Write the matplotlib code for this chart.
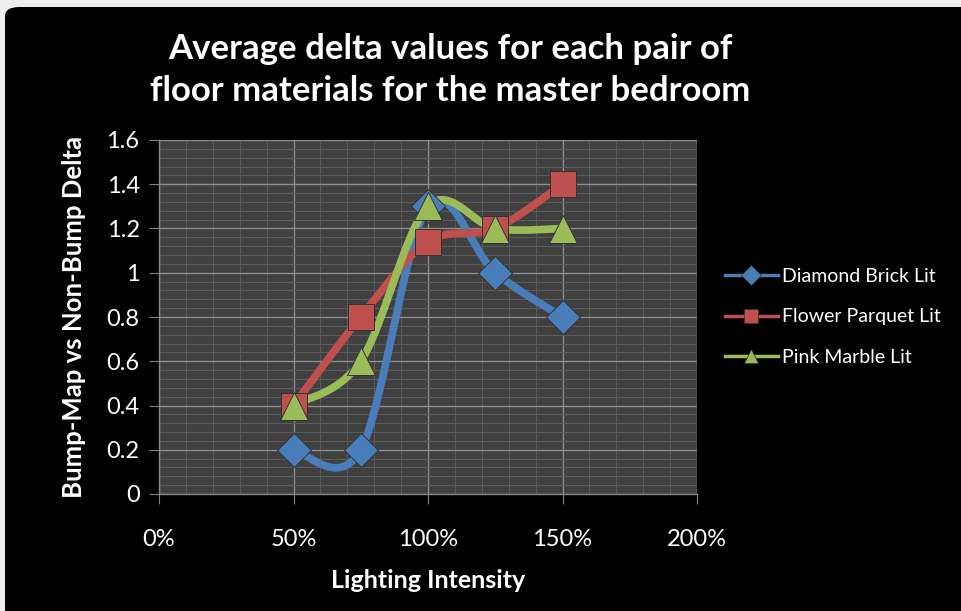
import numpy as np
import matplotlib
matplotlib.use('Agg')
import matplotlib.pyplot as plt
from matplotlib.patches import FancyBboxPatch
from matplotlib.ticker import MultipleLocator, PercentFormatter

plt.rcParams['font.family'] = ['Lato', 'DejaVu Sans']

intensity = [0.50, 0.75, 1.00, 1.25, 1.50]
diamond_brick = [0.2, 0.2, 1.3, 1.0, 0.8]
flower_parquet = [0.4, 0.8, 1.14, 1.2, 1.4]
pink_marble = [0.4, 0.6, 1.3, 1.2, 1.2]

series = [
    ('Diamond Brick Lit', diamond_brick, '#4a7ebb', 'D'),
    ('Flower Parquet Lit', flower_parquet, '#c0504d', 's'),
    ('Pink Marble Lit', pink_marble, '#9bbb59', '^'),
]
marker_size = {'D': 17, 's': 19, '^': 20}


def smooth(ax, xs, ys, n=40):
    # excel-style smoothed line: bezier through the points, built in pixel space
    pts = ax.transData.transform(np.column_stack([xs, ys]))
    p = np.vstack([pts[0], pts, pts[-1]])
    out = []
    t = np.linspace(0, 1, n)[:, None]
    for i in range(1, len(p) - 2):
        p0, p1, p2, p3 = p[i - 1], p[i], p[i + 1], p[i + 2]
        c1 = p1 + (p2 - p0) / 6
        c2 = p2 - (p3 - p1) / 6
        seg = (1 - t) ** 3 * p1 + 3 * (1 - t) ** 2 * t * c1 + 3 * (1 - t) * t ** 2 * c2 + t ** 3 * p2
        out.append(seg)
    out = np.vstack(out)
    return ax.transData.inverted().transform(out)


fig = plt.figure(figsize=(9.61, 6.11), dpi=100, facecolor='#eeeeee')
fig.patches.append(FancyBboxPatch((5 / 961, -0.05), 1.1, 1 - 7 / 611 + 0.05,
                                  boxstyle='round,pad=0,rounding_size=0.015',
                                  transform=fig.transFigure, facecolor='black',
                                  edgecolor='none', zorder=-10))

ax = fig.add_axes([159 / 961, 1 - 494 / 611, (697 - 159) / 961, (494 - 140) / 611])
ax.set_zorder(5)
ax.set_facecolor('#404040')
ax.set_xlim(0, 2)
ax.set_ylim(0, 1.6)

ax.xaxis.set_major_locator(MultipleLocator(0.5))
ax.xaxis.set_minor_locator(MultipleLocator(0.1))
ax.yaxis.set_major_locator(MultipleLocator(0.2))
ax.yaxis.set_minor_locator(MultipleLocator(0.04))
ax.xaxis.set_major_formatter(PercentFormatter(1.0, decimals=0))
ax.yaxis.set_major_formatter(plt.FuncFormatter(lambda v, p: ('%g' % round(v, 1))))

ax.grid(which='minor', color='#5a5a5a', lw=0.8)
ax.grid(which='major', color='#8c8c8c', lw=1.0)
ax.set_axisbelow(True)
for s in ['top', 'right']:
    ax.spines[s].set_visible(False)
for s in ['left', 'bottom']:
    ax.spines[s].set_color('#868686')
    ax.spines[s].set_linewidth(1.0)

ax.tick_params(which='major', colors='#868686', length=7, labelsize=17, labelcolor='white')
ax.tick_params(axis='x', which='major', pad=18)
ax.tick_params(axis='y', which='major', pad=7)
ax.tick_params(which='minor', length=0)

for name, vals, col, mk in series:
    curve = smooth(ax, intensity, vals)
    ax.plot(curve[:, 0], curve[:, 1], color=col, lw=5.5, solid_capstyle='round', zorder=3)
    ax.plot(intensity, vals, ls='none', marker=mk, ms=marker_size[mk], color=col,
            markeredgecolor='#333333', markeredgewidth=0.7, zorder=4)
    # legend proxy
    ax.plot([], [], color=col, lw=2.5, marker=mk, ms=10, markeredgecolor='#333333',
            markeredgewidth=0.5, label=name)

ax.set_xlabel('Lighting Intensity', color='white', fontsize=18, fontweight='bold', labelpad=14)
ax.set_ylabel('Bump-Map vs Non-Bump Delta', color='white', fontsize=18.5, fontweight='bold', labelpad=15)

fig.text(450 / 961, 1 - 70 / 611, 'Average delta values for each pair of\nfloor materials for the master bedroom',
         ha='center', va='center', color='white', fontsize=25, fontweight='bold', linespacing=1.4)

leg = fig.legend(loc='center left', bbox_to_anchor=(725 / 961, 1 - 317 / 611), frameon=False,
                 fontsize=14, labelcolor='white', handlelength=2.7, labelspacing=1.2,
                 handletextpad=0.25, borderpad=0, borderaxespad=0)

plt.savefig('out.png', dpi=100, facecolor=fig.get_facecolor())
